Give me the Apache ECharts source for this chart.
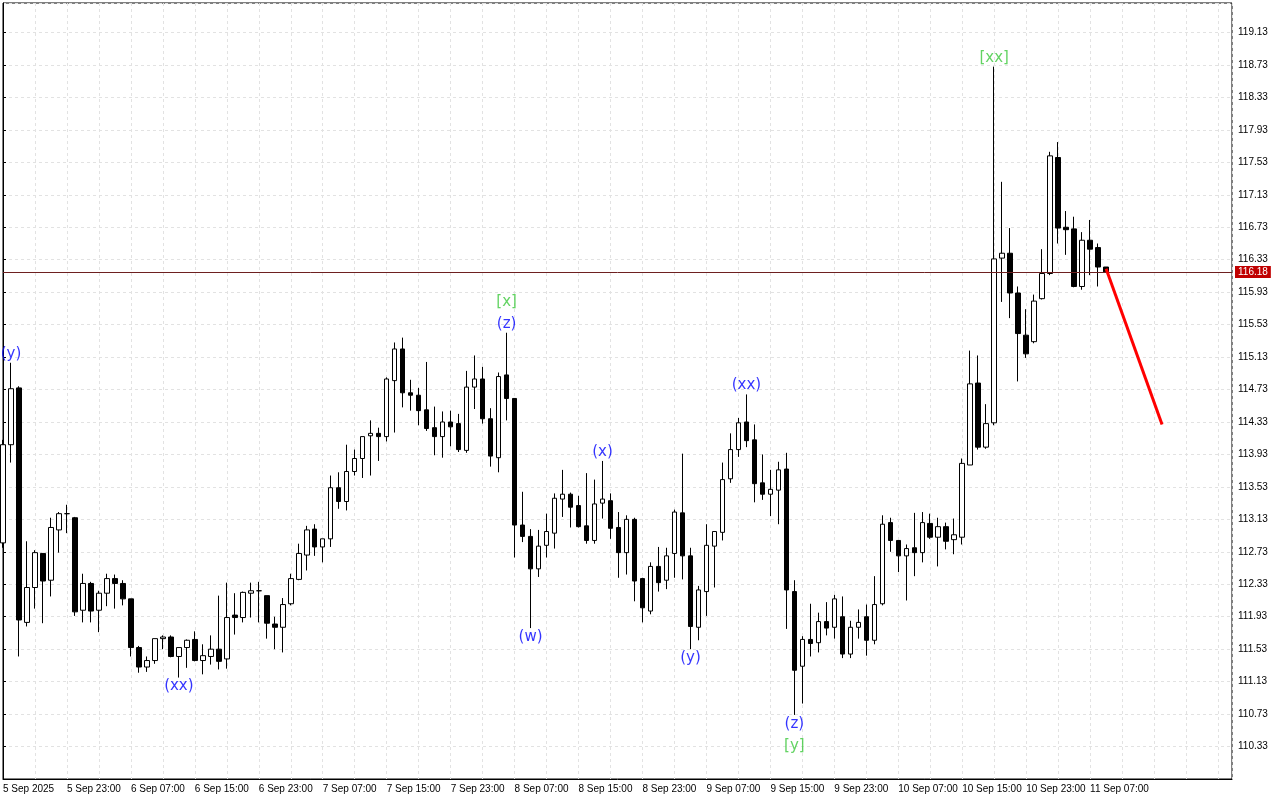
<!DOCTYPE html>
<html>
<head>
<meta charset="utf-8">
<script src="https://cdn.jsdelivr.net/npm/echarts/dist/echarts.min.js"></script>
<style>
html,body{margin:0;padding:0;background:#fff;}
#chart{width:1280px;height:800px;}
</style>
</head>
<body>
<div id="chart"></div>
<script>
// x tick labels, one every 8 hourly candles starting at candle 0 (5 Sep 15:00)
const xTickLabels = ['5 Sep 2025','5 Sep 23:00','6 Sep 07:00','6 Sep 15:00','6 Sep 23:00','7 Sep 07:00','7 Sep 15:00','7 Sep 23:00','8 Sep 07:00','8 Sep 15:00','8 Sep 23:00','9 Sep 07:00','9 Sep 15:00','9 Sep 23:00','10 Sep 07:00','10 Sep 15:00','10 Sep 23:00','11 Sep 07:00'];

const open = [112.84,114.05,114.75,111.86,112.29,112.71,112.38,113.00,113.20,113.15,
112.01,112.34,112.01,112.22,112.40,112.34,112.15,111.55,111.31,111.39,
111.66,111.68,111.44,111.55,111.65,111.39,111.44,111.53,111.41,111.95,
111.92,112.22,112.25,112.19,111.84,111.80,112.09,112.39,112.69,113.01,
112.79,112.89,113.52,113.35,113.72,113.88,114.16,114.19,114.15,114.84,
115.23,114.69,114.66,114.48,114.26,114.15,114.33,114.31,113.98,114.76,
114.86,114.37,113.89,114.91,114.62,113.06,112.92,112.52,112.81,112.96,
113.38,113.44,113.30,113.05,112.87,113.33,113.36,113.03,112.72,113.13,
112.40,112.00,112.55,112.38,112.71,113.21,112.68,111.80,112.24,112.80,
112.97,113.63,113.99,114.33,114.11,113.58,113.44,113.49,113.75,112.24,
111.32,111.65,111.61,111.87,111.80,111.93,111.47,111.80,111.93,111.64,
112.09,113.09,112.87,112.68,112.78,112.72,113.08,112.91,113.04,112.88,
112.91,113.80,114.81,114.02,114.32,116.35,116.41,115.92,115.40,115.32,
115.85,116.16,117.59,116.73,116.71,116.00,116.57,116.48,116.24];

const high = [114.11,115.06,114.77,112.86,112.75,112.71,113.15,113.22,113.31,113.16,
112.46,112.36,112.25,112.46,112.45,112.38,112.15,111.57,111.44,111.66,
111.70,111.70,111.55,111.65,111.75,111.59,111.70,112.19,112.35,112.22,
112.24,112.35,112.36,112.19,111.93,112.16,112.46,112.83,113.05,113.07,
112.89,113.67,113.71,114.05,113.99,114.15,114.35,114.26,114.88,115.31,
115.37,114.85,114.75,115.07,114.52,114.46,114.47,114.43,114.96,115.15,
115.01,114.50,114.94,115.43,114.62,113.47,113.01,113.00,113.20,113.45,
113.74,113.46,113.42,113.70,113.62,113.85,113.45,113.22,113.18,113.15,
112.41,112.60,112.79,112.78,113.25,113.94,112.78,112.31,113.07,112.98,
113.83,114.19,114.38,114.67,114.30,113.93,113.74,113.84,113.95,112.38,
111.69,112.09,111.98,112.11,112.20,112.18,111.88,112.02,112.08,112.43,
113.18,113.15,112.87,112.82,113.21,113.22,113.20,113.15,113.09,113.14,
113.88,115.21,115.15,114.55,118.71,117.29,116.72,116.00,115.72,115.90,
116.46,117.66,117.78,116.93,116.86,116.67,116.82,116.53,116.24];

const low = [112.78,113.83,111.44,111.81,112.03,111.85,112.18,112.72,112.96,111.94,
111.86,111.86,111.74,112.06,112.03,112.07,111.44,111.24,111.25,111.35,
111.53,111.43,111.18,111.30,111.38,111.22,111.34,111.28,111.29,111.71,
111.86,111.92,111.86,111.66,111.53,111.49,112.07,112.38,112.50,112.68,
112.60,112.79,113.26,113.24,113.67,113.64,113.67,113.85,114.09,114.20,
114.51,114.47,114.29,114.22,113.92,113.89,114.03,113.96,113.95,114.49,
114.31,113.78,113.71,114.35,112.66,112.85,111.79,112.42,112.66,112.77,
113.16,113.03,113.03,112.83,112.83,113.14,112.89,112.41,112.45,112.12,
111.86,111.96,112.24,112.27,112.41,112.39,111.53,111.64,111.94,112.29,
112.87,113.58,113.90,114.02,113.34,113.37,113.17,113.07,111.78,110.72,
110.86,111.44,111.49,111.70,111.66,111.42,111.42,111.66,111.45,111.59,
112.07,112.73,112.48,112.13,112.43,112.60,112.89,112.55,112.76,112.70,
112.82,113.80,113.99,114.00,114.29,115.81,115.61,114.83,115.12,115.30,
115.84,116.14,116.53,116.39,115.99,115.96,116.14,116.00,116.18];

const close = [114.05,114.74,111.89,112.29,112.72,112.37,113.03,113.20,113.20,111.99,
112.34,112.00,112.22,112.40,112.34,112.15,111.55,111.31,111.39,111.66,
111.68,111.44,111.55,111.64,111.39,111.45,111.53,111.38,111.92,111.92,
112.23,112.25,112.25,111.85,111.80,112.08,112.40,112.71,113.00,112.79,
112.89,113.52,113.35,113.72,113.88,114.15,114.19,114.15,114.86,115.23,
114.69,114.66,114.47,114.25,114.15,114.33,114.27,113.99,114.76,114.86,
114.37,113.91,114.89,114.62,113.06,112.92,112.52,112.80,112.98,113.39,
113.44,113.28,113.04,112.87,113.32,113.38,113.02,112.72,113.13,112.37,
112.04,112.55,112.35,112.68,113.22,112.68,111.81,112.26,112.81,112.98,
113.62,113.99,114.32,114.10,113.57,113.44,113.50,113.74,112.26,111.27,
111.65,111.60,111.87,111.79,112.15,111.47,111.80,111.86,111.64,112.08,
113.07,112.87,112.68,112.77,112.72,113.09,112.91,113.04,112.86,112.94,
113.82,114.80,114.02,114.31,116.34,116.41,115.92,115.42,115.17,115.82,
116.16,117.61,116.72,116.70,116.00,116.57,116.46,116.24,116.18];

const currentPrice = 116.18;

// forecast arrow (red line): candle index and price at each end
const forecastIdx = [138, 145];
const forecastVal = [116.22, 114.30];

// wave labels
const annoText  = ['(y)','(xx)','[x]','(z)','(w)','(x)','(y)','(xx)','(z)','[y]','[xx]'];
const annoIdx   = [1, 22, 63, 63, 66, 75, 86, 93, 99, 99, 124];
const annoSide  = ['high','low','high','high','low','high','low','high','low','low','high'];
const annoLevel = [0, 0, 1, 0, 0, 0, 0, 0, 0, 1, 0];
const annoKind  = ['minor','minor','major','minor','minor','minor','minor','minor','minor','major','major'];

const yMin = 109.93, yMax = 119.494, yStep = 0.4;
const xMax = 153.75;

const candles = open.map((o, i) => [i, o, close[i], low[i], high[i]]);

const kindColor = {minor: '#0000ff', major: '#3cc83c'};
const annoData = annoText.map((t, i) => {
  const k = annoIdx[i];
  const isHigh = annoSide[i] === 'high';
  const y = isHigh ? high[k] : low[k];
  const off = annoLevel[i] === 0 ? 9 : 31;
  return {
    name: t,
    value: [k, y],
    label: {color: kindColor[annoKind[i]], offset: [0, isHigh ? -off : off]}
  };
});

const chart = echarts.init(document.getElementById('chart'), null, {renderer: 'canvas'});
const gridLine = {show: true, lineStyle: {color: '#e2e2e2', width: 1, type: [3, 3]}};
chart.setOption({
  animation: false,
  backgroundColor: '#ffffff',
  grid: {left: 2, right: 48, top: 3, bottom: 21, show: true, borderColor: '#000', borderWidth: 1},
  xAxis: {
    type: 'value', min: 0, max: xMax, interval: 4,
    axisLine: {show: true, onZero: false, lineStyle: {color: '#000'}},
    axisTick: {show: false},
    splitLine: gridLine,
    axisLabel: {
      show: true, align: 'left', color: '#000', fontSize: 10, fontFamily: 'Liberation Sans, Arial, sans-serif',
      margin: 5, showMaxLabel: false, showMinLabel: true,
      formatter: function (v) {
        const r = Math.round(v);
        if (Math.abs(v - r) > 1e-6 || r % 8 !== 0) return '';
        return xTickLabels[r / 8] || '';
      }
    }
  },
  yAxis: {
    type: 'value', position: 'right', min: yMin, max: yMax, interval: yStep, scale: true,
    axisLine: {show: true, lineStyle: {color: '#000'}},
    axisTick: {show: true, length: 3, lineStyle: {color: '#000'}},
    splitLine: gridLine,
    axisLabel: {
      color: '#000', fontSize: 10, fontFamily: 'Liberation Sans, Arial, sans-serif', margin: 6,
      padding: [3, 0, 0, 0],
      showMinLabel: false, showMaxLabel: false,
      formatter: function (v) { return v.toFixed(2); }
    }
  },
  series: [
    {
      type: 'candlestick',
      data: candles,
      barWidth: 5,
      itemStyle: {color: '#ffffff', color0: '#000000', borderColor: '#000000', borderColor0: '#000000', borderWidth: 1},
      markLine: {
        silent: true,
        symbol: ['none', 'none'],
        data: [{yAxis: currentPrice}],
        lineStyle: {color: '#6e2020', width: 1, type: 'solid'},
        label: {
          show: true, position: 'end', distance: 3,
          formatter: currentPrice.toFixed(2),
          backgroundColor: '#c00000', color: '#fff', fontSize: 10,
          fontFamily: 'Liberation Sans, Arial, sans-serif', padding: [1, 3, 1, 3]
        }
      }
    },
    {
      type: 'line',
      data: forecastIdx.map((k, i) => [k, forecastVal[i]]),
      symbol: 'none',
      lineStyle: {color: '#ff0000', width: 3},
      z: 5
    },
    {
      type: 'scatter',
      data: annoData,
      symbolSize: 0,
      z: 6,
      label: {
        show: true, position: 'inside', formatter: '{b}',
        fontSize: 15, fontFamily: 'DejaVu Sans, sans-serif'
      }
    }
  ]
});
</script>
</body>
</html>
